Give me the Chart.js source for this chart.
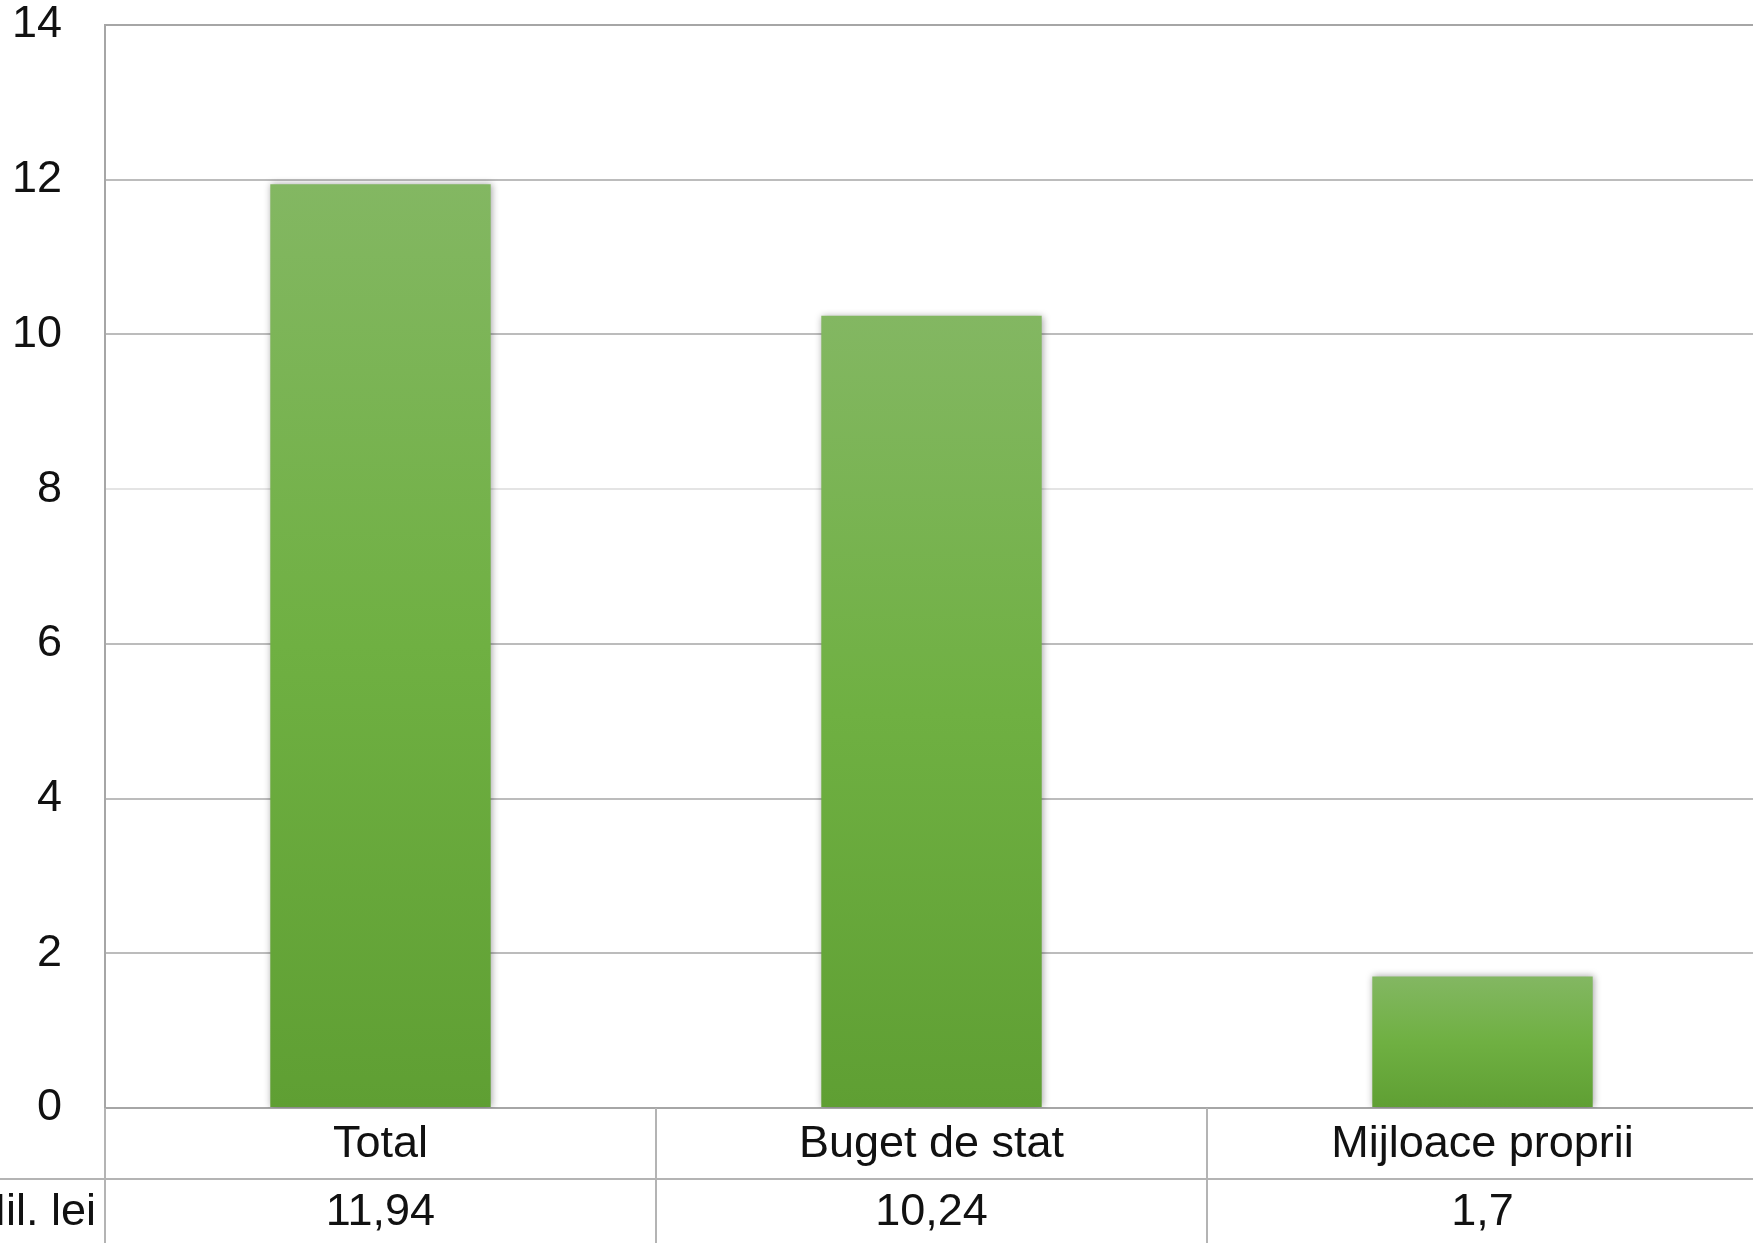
<!DOCTYPE html>
<html>
<head>
<meta charset="utf-8">
<script src="https://cdn.jsdelivr.net/npm/chart.js@4/dist/chart.umd.min.js"></script>
<style>
  html, body { margin: 0; padding: 0; background: #fff; overflow: hidden; }
  #wrap { width: 1760px; height: 1243px; }
</style>
</head>
<body>
<div id="wrap"><canvas id="barChart" width="1760" height="1243"></canvas></div>
<script>
// data
const categories = ['Total', 'Buget de stat', 'Mijloace proprii'];
const values = [11.94, 10.24, 1.7];
const rowLabel = 'Mil. lei';
const yMin = 0, yMax = 14, yStep = 2;

const FONT = 'Liberation Sans, Arial, sans-serif';
const LINE = '#b4b4b4';

function fmt(v) { return String(v).replace('.', ','); }

function barGradient(ctx) {
    const chart = ctx.chart;
    if (!chart.chartArea) return '#70b043';
    const y = chart.scales.y;
    const top = y.getPixelForValue(ctx.raw);
    const bottom = y.getPixelForValue(0);
    const g = chart.ctx.createLinearGradient(0, top, 0, bottom);
    g.addColorStop(0, '#83b762');
    g.addColorStop(0.5, '#6fb042');
    g.addColorStop(1, '#5f9f33');
    return g;
}

// soft shadow round the bars
const barShadow = {
    id: 'barShadow',
    beforeDatasetsDraw(chart) {
        const c = chart.ctx;
        c.save();
        c.shadowColor = 'rgba(0,0,0,0.35)';
        c.shadowBlur = 7;
        c.shadowOffsetX = 1;
        c.shadowOffsetY = 0;
    },
    afterDatasetsDraw(chart) {
        chart.ctx.restore();
    }
};

// data table under the plot
const dataTable = {
    id: 'dataTable',
    afterDraw(chart) {
        const c = chart.ctx;
        const x = chart.scales.x;
        const area = chart.chartArea;
        const H = chart.height;
        const rowY = 1179;
        const half = (x.getPixelForValue(1) - x.getPixelForValue(0)) / 2;

        c.save();
        c.strokeStyle = LINE;
        c.lineWidth = 2;
        c.beginPath();
        c.moveTo(0, rowY);
        c.lineTo(chart.width, rowY);
        c.moveTo(area.left, area.bottom);
        c.lineTo(area.left, H);
        for (let i = 1; i < categories.length; i++) {
            const bx = x.getPixelForValue(i) - half;
            c.moveTo(bx, area.bottom);
            c.lineTo(bx, H);
        }
        c.stroke();

        c.fillStyle = '#111';
        c.font = '45px ' + FONT;
        c.textBaseline = 'middle';
        c.textAlign = 'center';
        categories.forEach(function(cat, i) {
            const cx = x.getPixelForValue(i);
            c.fillText(cat, cx, (area.bottom + rowY) / 2 + 1);
            c.fillText(fmt(values[i]), cx, (rowY + H) / 2 + 2);
        });
        c.textAlign = 'right';
        c.fillText(rowLabel, 96, (rowY + H) / 2 + 2);
        c.restore();
    }
};

new Chart(document.getElementById('barChart'), {
    type: 'bar',
    data: {
        labels: categories,
        datasets: [{
            data: values,
            backgroundColor: barGradient,
            borderWidth: 0,
            categoryPercentage: 1,
            barPercentage: 0.4
        }]
    },
    options: {
        responsive: false,
        animation: false,
        devicePixelRatio: 1,
        layout: { padding: { top: 25, right: 2, left: 0, bottom: 0 } },
        plugins: {
            legend: { display: false },
            tooltip: { enabled: false }
        },
        scales: {
            x: {
                ticks: { display: false },
                grid: { display: false, drawTicks: false },
                border: { display: true, color: '#a6a6a6', width: 2 },
                afterFit(scale) { scale.height = 135; }
            },
            y: {
                min: yMin,
                max: yMax,
                ticks: {
                    stepSize: yStep,
                    padding: 43,
                    color: '#111',
                    font: { family: FONT, size: 45, lineHeight: 1 }
                },
                grid: {
                    drawTicks: false,
                    lineWidth: 2,
                    color(ctx) {
                        if (ctx.tick && ctx.tick.value === yMax) return '#a6a6a6';
                        if (ctx.tick && ctx.tick.value === 8) return '#e4e4e4';
                        return '#bcbcbc';
                    }
                },
                border: { display: true, color: '#a6a6a6', width: 2 },
                afterFit(scale) {
                    scale.width = 105;
                    scale.paddingTop = 20;
                    scale.paddingBottom = 20;
                }
            }
        }
    },
    plugins: [barShadow, dataTable]
});
</script>
</body>
</html>
